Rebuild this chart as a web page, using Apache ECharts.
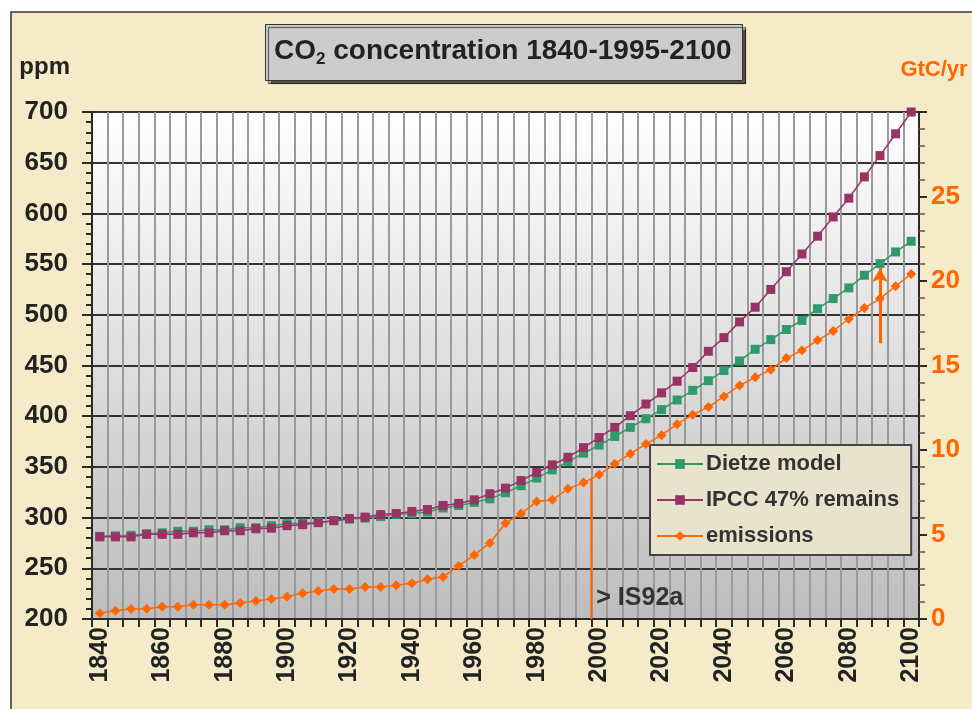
<!DOCTYPE html>
<html>
<head>
<meta charset="utf-8">
<script src="https://cdn.jsdelivr.net/npm/echarts@6/dist/echarts.min.js"></script>
<style>
  html, body { margin: 0; padding: 0; background: #ffffff; }
  #main { width: 972px; height: 709px; }
</style>
</head>
<body>
<div id="main"></div>
<script>
// categories (every 5 years)
var years = ["1840", "1845", "1850", "1855", "1860", "1865", "1870", "1875", "1880", "1885",
  "1890", "1895", "1900", "1905", "1910", "1915", "1920", "1925", "1930", "1935",
  "1940", "1945", "1950", "1955", "1960", "1965", "1970", "1975", "1980", "1985",
  "1990", "1995", "2000", "2005", "2010", "2015", "2020", "2025", "2030", "2035",
  "2040", "2045", "2050", "2055", "2060", "2065", "2070", "2075", "2080", "2085",
  "2090", "2095", "2100"];

// CO2 ppm, Dietze model
var dietze = [281.5, 282, 282.5, 284, 285, 286.5, 286.5, 288, 288, 290,
  290, 292, 294, 294.5, 295.5, 297, 298.5, 299.5, 301, 303,
  304, 305.5, 309.5, 312, 315, 318.5, 324.5, 331.5, 339, 347,
  355, 363.5, 371.5, 380, 389, 397.5, 406.5, 416, 425.5, 435,
  445, 454.5, 466, 475.5, 485.5, 494.5, 506, 516, 526.5, 539,
  550.5, 562, 572.5];

// CO2 ppm, IPCC 47% remains
var ipcc = [281, 281, 281, 283.5, 283.5, 283.5, 285, 285, 287, 287,
  289, 289.5, 292, 293, 295, 297, 299, 300.5, 303, 304,
  306, 308, 312, 314, 317.5, 323.5, 329, 336.5, 344.5, 352,
  359.5, 369, 379, 389, 400.5, 412, 423, 434.5, 448, 464,
  477.5, 493, 507.5, 525, 542.5, 560, 577.5, 596.5, 615, 636,
  657, 678.5, 700];

// emissions GtC/yr (right axis)
var emissions = [0.34, 0.49, 0.59, 0.6, 0.73, 0.73, 0.84, 0.84, 0.84, 0.94,
  1.07, 1.18, 1.32, 1.53, 1.66, 1.78, 1.78, 1.9, 1.9, 2.0,
  2.11, 2.35, 2.49, 3.14, 3.79, 4.5, 5.67, 6.24, 6.95, 7.05,
  7.7, 8.07, 8.53, 9.18, 9.78, 10.35, 10.88, 11.53, 12.09, 12.54,
  13.17, 13.82, 14.3, 14.75, 15.44, 15.9, 16.49, 17.04, 17.75, 18.4,
  18.96, 19.69, 20.42];

// IS92a marker line (year, GtC/yr)
var is92aLine = [[1997.5, 0], [1997.5, 8.3]];
var is92aLabel = [1997.5, 1.24];

// arrow at 2090 (ppm)
var arrowYear = "2090";
var arrowPpm = [472, 546];

var orange = "#ff6600";
var purple = "#993366";
var green = "#2f9a6a";
var dark = "#2a2a2a";

var chart = echarts.init(document.getElementById("main"));

chart.setOption({
  animation: false,
  backgroundColor: "#ffffff",
  textStyle: { fontFamily: "Liberation Sans, Arial, sans-serif" },
  graphic: [
    {
      type: "rect",
      z: -100,
      shape: { x: 11, y: 12, width: 1000, height: 1000 },
      style: { fill: "#f6ebc8", stroke: "#333", lineWidth: 1.5 }
    }
  ],
  title: {
    text: "{a|CO}{b|2}{a| concentration 1840-1995-2100}",
    left: 265,
    top: 21,
    padding: [13, 11, 13, 9],
    backgroundColor: "#cccccc",
    borderColor: "#333",
    borderWidth: 1,
    shadowColor: "rgba(0,0,0,0.65)",
    shadowBlur: 1,
    shadowOffsetX: 3,
    shadowOffsetY: 3,
    textStyle: {
      rich: {
        a: { fontSize: 28, fontWeight: "bold", color: "#222", lineHeight: 34 },
        b: { fontSize: 17, fontWeight: "bold", color: "#222", lineHeight: 14, verticalAlign: "bottom" }
      }
    }
  },
  legend: {
    data: ["Dietze model", "IPCC 47% remains", "emissions"],
    orient: "vertical",
    left: 650,
    top: 445,
    padding: [8, 12, 8, 6],
    itemGap: 14,
    itemWidth: 46,
    itemHeight: 12,
    backgroundColor: "#e8e3cd",
    borderColor: "#444",
    borderWidth: 2,
    borderRadius: 0,
    textStyle: { fontSize: 22, fontWeight: "bold", color: "#333", padding: [0, 0, 0, -2] }
  },
  grid: {
    left: 92,
    right: 53,
    top: 112,
    bottom: 90,
    show: true,
    borderWidth: 0,
    backgroundColor: {
      type: "linear", x: 0, y: 0, x2: 0, y2: 1,
      colorStops: [{ offset: 0, color: "#ffffff" }, { offset: 1, color: "#bdbdbd" }]
    }
  },
  xAxis: [
    {
      type: "category",
      data: years,
      boundaryGap: true,
      axisLine: { lineStyle: { color: dark, width: 2 } },
      axisTick: { show: true, interval: 0, length: 8, lineStyle: { color: dark, width: 2 } },
      axisLabel: {
        interval: 3,
        rotate: 90,
        margin: 8,
        fontSize: 25,
        fontWeight: "bold",
        color: "#222"
      },
      splitLine: { show: true, interval: 0, lineStyle: { color: "#9a9a9a", width: 2 } }
    },
    {
      type: "value",
      min: 1837.5,
      max: 2102.5,
      show: false
    }
  ],
  yAxis: [
    {
      type: "value",
      min: 200,
      max: 700,
      interval: 50,
      name: "ppm",
      nameLocation: "end",
      nameGap: 45,
      nameTextStyle: { fontSize: 24, fontWeight: "bold", color: "#222", align: "right", verticalAlign: "middle", padding: [0, 22, 0, 0] },
      axisLine: { show: true, lineStyle: { color: dark, width: 2 } },
      axisTick: { show: true, length: 10, lineStyle: { color: dark, width: 2 } },
      minorTick: { show: true, splitNumber: 5, length: 6, lineStyle: { color: dark, width: 2 } },
      axisLabel: { fontSize: 26, fontWeight: "bold", color: "#222", margin: 24 },
      splitLine: { show: true, lineStyle: { color: "#333", width: 2 } }
    },
    {
      type: "value",
      min: 0,
      max: 30,
      interval: 5,
      position: "right",
      name: "GtC/yr",
      nameLocation: "end",
      nameGap: 42,
      nameTextStyle: { fontSize: 22, fontWeight: "bold", color: orange, align: "center", verticalAlign: "middle", padding: [0, 0, 0, 30] },
      axisLine: { show: true, lineStyle: { color: dark, width: 2 } },
      axisTick: { show: true, length: 8, lineStyle: { color: dark, width: 2 } },
      minorTick: { show: true, splitNumber: 5, length: 6, lineStyle: { color: "#555", width: 1.5 } },
      axisLabel: {
        fontSize: 26, fontWeight: "bold", color: orange, margin: 12,
        showMaxLabel: false
      },
      splitLine: { show: false }
    }
  ],
  series: [
    {
      name: "Dietze model",
      type: "line",
      data: dietze,
      symbol: "rect",
      symbolSize: 9,
      color: green,
      lineStyle: { color: green, width: 1.5 },
      itemStyle: { color: green },
      z: 3,
      markLine: {
        silent: true,
        symbol: ["none", "arrow"],
        symbolSize: [12, 14],
        label: { show: false },
        lineStyle: { color: orange, width: 3, type: "solid" },
        data: [[{ coord: [arrowYear, arrowPpm[0]] }, { coord: [arrowYear, arrowPpm[1]] }]]
      }
    },
    {
      name: "IPCC 47% remains",
      type: "line",
      data: ipcc,
      symbol: "rect",
      symbolSize: 9,
      color: purple,
      lineStyle: { color: purple, width: 1.5 },
      itemStyle: { color: purple },
      z: 4
    },
    {
      name: "emissions",
      type: "line",
      yAxisIndex: 1,
      data: emissions,
      symbol: "diamond",
      symbolSize: 10,
      color: orange,
      lineStyle: { color: orange, width: 1.5 },
      itemStyle: { color: orange },
      z: 5
    },
    {
      name: "IS92a",
      type: "line",
      xAxisIndex: 1,
      yAxisIndex: 1,
      data: is92aLine,
      showSymbol: false,
      lineStyle: { color: orange, width: 2 },
      z: 2,
      markPoint: {
        symbol: "circle",
        symbolSize: 0,
        silent: true,
        data: [{ coord: is92aLabel }],
        label: {
          show: true,
          position: "right",
          distance: 5,
          formatter: "> IS92a",
          fontSize: 25,
          fontWeight: "bold",
          color: "#333"
        }
      }
    }
  ]
});
</script>
</body>
</html>
